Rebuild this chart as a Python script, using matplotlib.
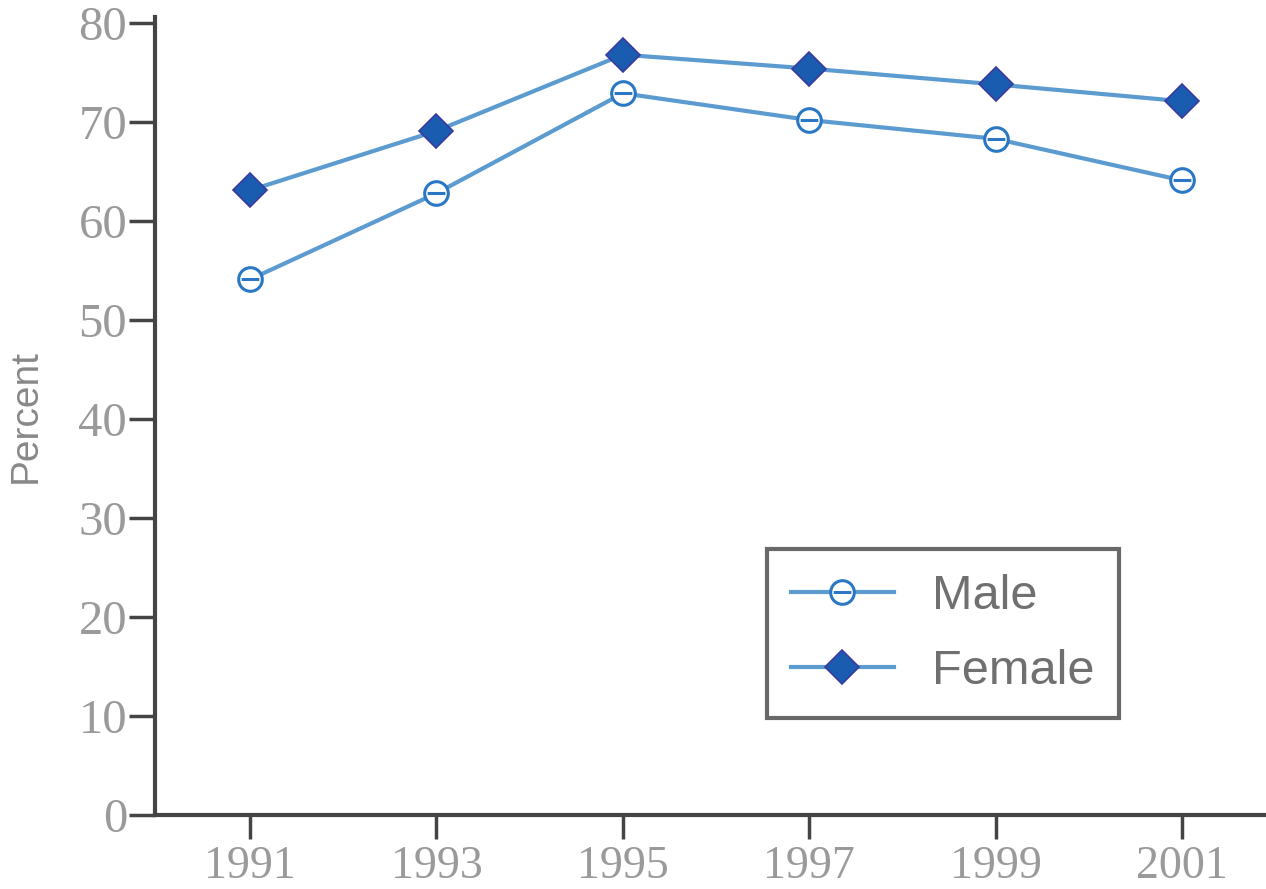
import matplotlib
matplotlib.use("Agg")
import matplotlib.pyplot as plt
from matplotlib.path import Path

years = [1991, 1993, 1995, 1997, 1999, 2001]
male = [54.1, 62.8, 72.9, 70.2, 68.3, 64.1]
female = [63.1, 69.1, 76.8, 75.4, 73.8, 72.1]
yticks = [0, 10, 20, 30, 40, 50, 60, 70, 80]

line_col = '#5b9bd0'
male_edge = '#2a78c4'
fem_face = '#1a5cb0'
fem_edge = '#3a3a9e'
axis_col = '#444444'
tick_txt = '#9a9a9a'

# circle with a bar through the middle, like the original marker
circ = Path.unit_circle()
bar = Path([(-0.75, 0.0), (0.75, 0.0)], [Path.MOVETO, Path.LINETO])
male_marker = Path.make_compound_path(circ, bar)

fig = plt.figure(figsize=(12.66, 8.89), dpi=100)
ax = fig.add_axes([0.1224, 0.0832, 0.8776, 0.8976])

ax.plot(years, male, color=line_col, linewidth=3, marker=male_marker,
        markersize=17, markerfacecolor='white', markeredgecolor=male_edge,
        markeredgewidth=2.2, label='Male', zorder=3)
ax.plot(years, female, color=line_col, linewidth=3, marker='D',
        markersize=17, markerfacecolor=fem_face, markeredgecolor=fem_edge,
        markeredgewidth=1.2, label='Female', zorder=3)

ax.set_xlim(1989.98, 2001.9)
ax.set_ylim(0, 80.6)
ax.set_xticks(years)
ax.set_yticks(yticks)

for s in ['top', 'right']:
    ax.spines[s].set_visible(False)
for s in ['left', 'bottom']:
    ax.spines[s].set_color(axis_col)
    ax.spines[s].set_linewidth(3)

ax.tick_params(axis='x', direction='out', length=17, width=2.5, color=axis_col,
               labelsize=33, labelcolor=tick_txt, pad=5)
ax.tick_params(axis='y', direction='out', length=19, width=2.5, color=axis_col,
               labelsize=35, labelcolor=tick_txt, pad=1)
for lab in ax.get_xticklabels() + ax.get_yticklabels():
    lab.set_family('Liberation Serif')

ax.set_ylabel('Percent', fontsize=28, color='#888888', family='Liberation Sans')
ax.yaxis.set_label_coords(-0.1, 0.5)

leg = ax.legend(loc='upper left', bbox_to_anchor=(0.551, 0.333),
                frameon=True, fancybox=False, borderpad=0.5,
                labelspacing=0.62, handlelength=2.1, handletextpad=0.8,
                borderaxespad=0, prop={'family': 'Liberation Sans', 'size': 35})
leg.get_frame().set_edgecolor(axis_col)
leg.get_frame().set_linewidth(3)
for t in leg.get_texts():
    t.set_color('#707070')

fig.savefig('out.png', dpi=100)
